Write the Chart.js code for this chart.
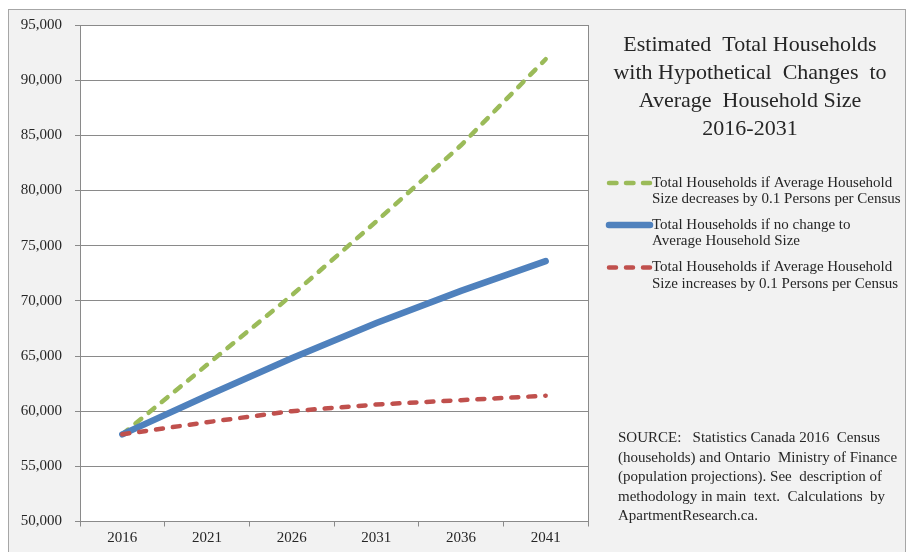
<!DOCTYPE html>
<html>
<head>
<meta charset="utf-8">
<script src="https://cdn.jsdelivr.net/npm/chart.js@4/dist/chart.umd.min.js"></script>
<style>
  html, body { margin: 0; padding: 0; background: #fff; }
  #caixa { width: 909px; height: 552px; }
</style>
</head>
<body>
<div id="caixa"><canvas id="grafico" width="909" height="552"></canvas></div>
<script>
// dados
const anos = ["2016", "2021", "2026", "2031", "2036", "2041"];
const diminui = [57900, 64200, 70500, 77200, 84100, 91900];
const semMudanca = [57900, 61400, 64800, 68000, 70900, 73600];
const aumenta = [57900, 59000, 60000, 60600, 61000, 61400];

const eixoMin = 50000;
const eixoMax = 95000;
const passo = 5000;

const titulo = [
  "Estimated  Total Households",
  "with Hypothetical  Changes  to",
  "Average  Household Size",
  "2016-2031"
];

const legendas = [
  ["Total Households if Average Household", "Size decreases by 0.1 Persons per Census"],
  ["Total Households if no change to", "Average Household Size"],
  ["Total Households if Average Household", "Size increases by 0.1 Persons per Census"]
];

const fonte = [
  "SOURCE:   Statistics Canada 2016  Census",
  "(households) and Ontario  Ministry of Finance",
  "(population projections). See  description of",
  "methodology in main  text.  Calculations  by",
  "ApartmentResearch.ca."
];

const serif = "'Liberation Serif', 'Times New Roman', serif";
const corTexto = "#262626";
const corGrade = "#8a8a8a";

const fundo = {
  id: "fundo",
  beforeDraw(chart) {
    const ctx = chart.ctx;
    const a = chart.chartArea;
    ctx.save();
    ctx.fillStyle = "#ffffff";
    ctx.fillRect(0, 0, chart.width, chart.height);
    ctx.fillStyle = "#f2f2f2";
    ctx.fillRect(8.5, 9.5, 897, 560);
    ctx.strokeStyle = "#a6a6a6";
    ctx.lineWidth = 1;
    ctx.strokeRect(8.5, 9.5, 897, 560);
    ctx.fillStyle = "#ffffff";
    ctx.fillRect(a.left, a.top, a.right - a.left, a.bottom - a.top);
    ctx.restore();
  },
  afterDraw(chart) {
    const ctx = chart.ctx;
    const a = chart.chartArea;
    ctx.save();
    // borda direita da area do grafico
    ctx.strokeStyle = corGrade;
    ctx.lineWidth = 1;
    ctx.beginPath();
    ctx.moveTo(Math.round(a.right) + 0.5, a.top);
    ctx.lineTo(Math.round(a.right) + 0.5, a.bottom);
    ctx.stroke();

    ctx.fillStyle = corTexto;
    ctx.textBaseline = "middle";

    // titulo
    ctx.font = "22px " + serif;
    ctx.textAlign = "center";
    titulo.forEach((linha, i) => ctx.fillText(linha, 750, 45 + i * 28));

    // legenda
    ctx.font = "15px " + serif;
    ctx.textAlign = "left";
    const topos = [183, 225, 267.5];
    const ordemLegenda = [0, 1, 2];
    ordemLegenda.forEach((k, i) => {
      const ds = chart.data.datasets[k];
      const y = topos[i];
      ctx.save();
      ctx.strokeStyle = ds.borderColor;
      ctx.lineWidth = ds.borderWidth;
      ctx.lineCap = "round";
      ctx.setLineDash(ds.borderDash || []);
      ctx.beginPath();
      ctx.moveTo(609, y);
      ctx.lineTo(650, y);
      ctx.stroke();
      ctx.restore();
      legendas[k].forEach((t, j) => ctx.fillText(t, 652, y + j * 16.5));
    });

    // fonte
    ctx.font = "15px " + serif;
    fonte.forEach((linha, i) => ctx.fillText(linha, 618, 438 + i * 19.6));
    ctx.restore();
  }
};

new Chart(document.getElementById("grafico").getContext("2d"), {
  type: "line",
  data: {
    labels: anos,
    datasets: [
      {
        label: legendas[0].join(" "),
        data: diminui,
        borderColor: "#9bbb59",
        borderWidth: 4.5,
        borderDash: [7.5, 9.5],
        borderCapStyle: "round",
        pointRadius: 0,
        tension: 0,
        order: 3
      },
      {
        label: legendas[1].join(" "),
        data: semMudanca,
        borderColor: "#4f81bd",
        borderWidth: 6.5,
        borderCapStyle: "round",
        pointRadius: 0,
        tension: 0,
        order: 2
      },
      {
        label: legendas[2].join(" "),
        data: aumenta,
        borderColor: "#c0504d",
        borderWidth: 4.5,
        borderDash: [7, 10],
        borderCapStyle: "round",
        pointRadius: 0,
        tension: 0,
        order: 1
      }
    ]
  },
  options: {
    responsive: false,
    animation: false,
    layout: { padding: { left: 8, right: 321, top: 25, bottom: 0 } },
    plugins: {
      legend: { display: false },
      tooltip: { enabled: false }
    },
    scales: {
      x: {
        offset: true,
        afterFit: (s) => { s.height = 30.5; },
        grid: {
          offset: true,
          drawOnChartArea: false,
          drawTicks: true,
          tickLength: 5,
          color: corGrade
        },
        border: { display: true, color: corGrade },
        ticks: {
          color: corTexto,
          font: { family: serif, size: 15 },
          padding: 3,
          maxRotation: 0
        }
      },
      y: {
        min: eixoMin,
        max: eixoMax,
        afterFit: (s) => { s.width = 72; },
        grid: { color: corGrade, tickLength: 5 },
        border: { display: true, color: corGrade },
        ticks: {
          stepSize: passo,
          color: corTexto,
          font: { family: serif, size: 15 },
          padding: 13,
          callback: (v) => v.toLocaleString("en-US")
        }
      }
    }
  },
  plugins: [fundo]
});
</script>
</body>
</html>
